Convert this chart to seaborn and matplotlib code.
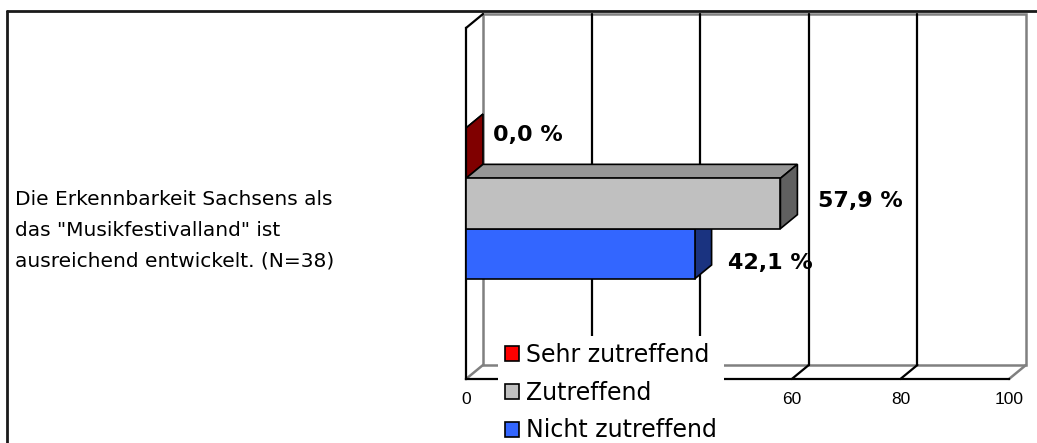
import matplotlib
matplotlib.use("Agg")
import matplotlib.pyplot as plt
import seaborn as sns
import pandas as pd
import numpy as np
from matplotlib.patches import Polygon, Rectangle
from matplotlib.lines import Line2D

# data
question = 'Die Erkennbarkeit Sachsens als\ndas "Musikfestivalland" ist\nausreichend entwickelt. (N=38)'
answers = ["Sehr zutreffend", "Zutreffend", "Nicht zutreffend"]
shares = [0.0, 57.9, 42.1]
value_labels = ["0,0 %", "57,9 %", "42,1 %"]
x_ticks = [0, 20, 40, 60, 80, 100]
x_tick_labels = ["0", "20", "40", "60", "80", "100"]

# styling
front_colors = ["#FF0000", "#C0C0C0", "#3366FF"]
top_colors = ["#800000", "#969696", "#2447B3"]
side_colors = ["#800000", "#606060", "#1A3380"]
bar_z = [2, 4, 3]
label_nudge = [(27, 18), (38, 3), (33, -9)]  # pixels from bar end
depth = (17, 14)  # 3d offset in pixels

sns.set_style("white")
plt.rcParams["font.family"] = ["DejaVu Sans"]
plt.rcParams["text.color"] = "black"
plt.rcParams["xtick.color"] = "black"
plt.rcParams["ytick.color"] = "black"

W, H = 1037, 443
fig = plt.figure(figsize=(W / 100, H / 100), dpi=100)
ax = fig.add_axes([466 / W, 1 - 379 / H, (1009 - 466) / W, (379 - 28) / H])
ax.patch.set_visible(False)

df = pd.DataFrame({"question": [question] * len(answers), "answer": answers, "share": shares})
sns.barplot(data=df, x="share", y="question", hue="answer", hue_order=answers,
            palette=front_colors, saturation=1, orient="h", width=0.43,
            edgecolor="black", linewidth=1.2, legend=False, ax=ax)
ax.set_xlim(0, 100)
ax.set_ylim(0.5, -0.5)


def back(x, y):
    # push a data point to the back plane of the 3d box
    p = ax.transData.transform((x, y)) + np.array(depth)
    return tuple(ax.transData.inverted().transform(p))


# back wall and floor
y_bot, y_top = 0.5, -0.5
wall = Polygon([back(0, y_bot), back(100, y_bot), back(100, y_top), back(0, y_top)],
               closed=True, facecolor="white", edgecolor="#808080", lw=1.8,
               zorder=0.5, clip_on=False)
ax.add_patch(wall)
for t in x_ticks[1:-1]:
    ax.plot(*zip(back(t, y_bot), back(t, y_top)), color="black", lw=1.6, zorder=0.6, clip_on=False)
    ax.plot(*zip((t, y_bot), back(t, y_bot)), color="black", lw=1.6, zorder=0.6, clip_on=False)
for t in (x_ticks[0], x_ticks[-1]):
    ax.plot(*zip((t, y_bot), back(t, y_bot)), color="#808080", lw=1.8, zorder=0.6, clip_on=False)
ax.plot(*zip((0, y_top), back(0, y_top)), color="black", lw=1.6, zorder=0.6, clip_on=False)

# 3d faces of the bars
bars = sorted([p for p in ax.patches if isinstance(p, Rectangle)], key=lambda p: p.get_y())
for i, bar in enumerate(bars):
    x0 = bar.get_x()
    x1 = x0 + bar.get_width()
    yt = bar.get_y()
    yb = yt + bar.get_height()
    z = bar_z[i]
    bar.set_zorder(z + 0.2)
    top = Polygon([(x0, yt), (x1, yt), back(x1, yt), back(x0, yt)], closed=True,
                  facecolor=top_colors[i], edgecolor="black", lw=1.2, zorder=z + 0.1, clip_on=False)
    side = Polygon([(x1, yt), (x1, yb), back(x1, yb), back(x1, yt)], closed=True,
                   facecolor=side_colors[i], edgecolor="black", lw=1.2, zorder=z + 0.1, clip_on=False)
    ax.add_patch(top)
    ax.add_patch(side)
    ax.annotate(value_labels[i], xy=(x1, (yt + yb) / 2), xytext=label_nudge[i],
                textcoords="offset pixels", ha="left", va="center",
                fontsize=16, fontweight="bold", zorder=6)

# axes styling
for s in ["top", "right"]:
    ax.spines[s].set_visible(False)
for s in ["left", "bottom"]:
    ax.spines[s].set_color("black")
    ax.spines[s].set_linewidth(1.6)
ax.set_xticks(x_ticks, x_tick_labels)
for lbl in ax.get_xticklabels():
    lbl.set_fontfamily("Liberation Sans")
    lbl.set_fontsize(12.5)
ax.tick_params(axis="x", length=5, width=1.6, direction="out", pad=4, colors="black")
ax.set_yticks([])
ax.set_yticks([y_top, y_bot], minor=True)
ax.tick_params(axis="y", which="minor", length=5, width=1.6, direction="out")
ax.set_xlabel("")
ax.set_ylabel("")

fig.text(15 / W, 1 - 230 / H, question, ha="left", va="center", fontsize=14.5,
         linespacing=1.78)

# legend
handles = [Rectangle((0, 0), 1, 1, facecolor=c, edgecolor="black", lw=1.2) for c in front_colors]
leg = fig.legend(handles, answers, loc="upper left", bbox_to_anchor=(498 / W, 1 - 336 / H),
                 frameon=True, fancybox=False, facecolor="white", edgecolor="none",
                 framealpha=1, fontsize=17, handlelength=0.6, handleheight=0.6,
                 handletextpad=0.3, labelspacing=0.58, borderpad=0.3, borderaxespad=0)

# outer frame
fig.add_artist(Line2D([7 / W, 1], [1 - 11 / H] * 2, transform=fig.transFigure, color="#1a1a1a", lw=2))
fig.add_artist(Line2D([7 / W] * 2, [0, 1 - 11 / H], transform=fig.transFigure, color="#1a1a1a", lw=2))

fig.savefig("out.png", dpi=100)
